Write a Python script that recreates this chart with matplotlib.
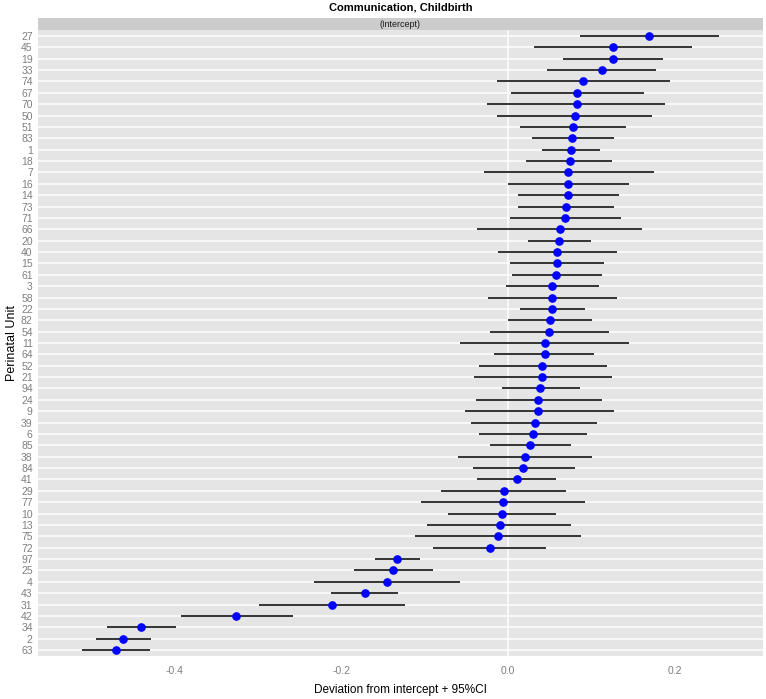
import numpy as np
import matplotlib
matplotlib.use('Agg')
import matplotlib.pyplot as plt
from matplotlib.patches import Rectangle

plt.rcParams['font.family'] = ['Liberation Sans', 'DejaVu Sans']

# Perinatal units, top to bottom as in the plot
units = ['27', '45', '19', '33', '74', '67', '70', '50', '51', '83',
         '1', '18', '7', '16', '14', '73', '71', '66', '20', '40',
         '15', '61', '3', '58', '22', '82', '54', '11', '64', '52',
         '21', '94', '24', '9', '39', '6', '85', '38', '84', '41',
         '29', '77', '10', '13', '75', '72', '97', '25', '4', '43',
         '31', '42', '34', '2', '63']

# deviation from intercept
est = [0.170, 0.126, 0.126, 0.113, 0.090, 0.083, 0.083, 0.080, 0.078, 0.077,
       0.076, 0.074, 0.072, 0.072, 0.072, 0.070, 0.068, 0.062, 0.061, 0.059,
       0.059, 0.058, 0.053, 0.053, 0.053, 0.050, 0.049, 0.045, 0.044, 0.041,
       0.041, 0.039, 0.036, 0.036, 0.032, 0.030, 0.027, 0.020, 0.018, 0.011,
       -0.005, -0.006, -0.007, -0.010, -0.012, -0.021, -0.133, -0.138, -0.145, -0.172,
       -0.211, -0.326, -0.441, -0.462, -0.471]

# lower 95% CI
lo = [0.087, 0.031, 0.066, 0.047, -0.013, 0.004, -0.025, -0.013, 0.015, 0.029,
      0.041, 0.022, -0.029, 0.000, 0.012, 0.012, 0.002, -0.037, 0.024, -0.012,
      0.003, 0.005, -0.002, -0.024, 0.014, 0.000, -0.022, -0.057, -0.017, -0.035,
      -0.041, -0.007, -0.038, -0.051, -0.044, -0.035, -0.022, -0.060, -0.042, -0.037,
      -0.080, -0.104, -0.072, -0.097, -0.111, -0.090, -0.160, -0.185, -0.233, -0.212,
      -0.299, -0.393, -0.482, -0.495, -0.512]

# upper 95% CI
hi = [0.254, 0.221, 0.186, 0.178, 0.195, 0.163, 0.189, 0.173, 0.142, 0.127,
      0.111, 0.125, 0.175, 0.145, 0.134, 0.127, 0.136, 0.161, 0.100, 0.131,
      0.115, 0.113, 0.109, 0.131, 0.093, 0.101, 0.121, 0.145, 0.103, 0.119,
      0.125, 0.086, 0.113, 0.127, 0.107, 0.095, 0.076, 0.101, 0.080, 0.058,
      0.070, 0.092, 0.058, 0.076, 0.088, 0.046, -0.105, -0.090, -0.058, -0.132,
      -0.124, -0.258, -0.399, -0.429, -0.430]

xticks = [-0.4, -0.2, 0.0, 0.2]

W, H = 766, 699
fig = plt.figure(figsize=(W / 100, H / 100), dpi=100)

# panel in pixel coords
left, right, top, bottom = 38.3, 762.7, 30, 656
ax = fig.add_axes([left / W, 1 - bottom / H, (right - left) / W, (bottom - top) / H])
ax.set_facecolor('#E5E5E5')

n = len(units)
ypos = np.arange(n)[::-1]

# white grid at each unit + vertical zero line
for y in ypos:
    ax.axhline(y, color='white', lw=1.1, zorder=1)
ax.axvline(0, color='white', lw=1.1, zorder=1)

ax.hlines(ypos, lo, hi, color='#333333', lw=1.4, zorder=2)
ax.plot(est, ypos, 'o', color='#0000FF', ms=5.2, mec='#0000FF', zorder=3)

ax.set_xlim(-0.564, 0.306)
ax.set_ylim(-0.52, n - 1 + 0.52)
ax.set_yticks(ypos)
ax.set_yticklabels(units)
ax.set_xticks(xticks)
ax.set_xticklabels(['-0.4', '-0.2', '0.0', '0.2'])
ax.tick_params(axis='both', length=0, labelsize=7.5, labelcolor='#7F7F7F')
ax.tick_params(axis='x', pad=7)
ax.tick_params(axis='y', pad=4)
for s in ax.spines.values():
    s.set_visible(False)

ax.set_xlabel('Deviation from intercept + 95%CI', fontsize=8.5, labelpad=6)
ax.set_ylabel('Perinatal Unit', fontsize=9, labelpad=2)

# facet strip
fig.patches.append(Rectangle((left / W, 1 - top / H), (right - left) / W, 11.7 / H,
                             transform=fig.transFigure, facecolor='#CCCCCC',
                             edgecolor='none'))
fig.text((left + right) / 2 / W, 1 - 24.2 / H, '(Intercept)', ha='center', va='center',
         fontsize=6.5, color='#1A1A1A')

fig.text((left + right) / 2 / W, 1 - 7.5 / H, 'Communication, Childbirth', ha='center',
         va='center', fontsize=8, fontweight='bold')

fig.savefig('out.png', dpi=100)
